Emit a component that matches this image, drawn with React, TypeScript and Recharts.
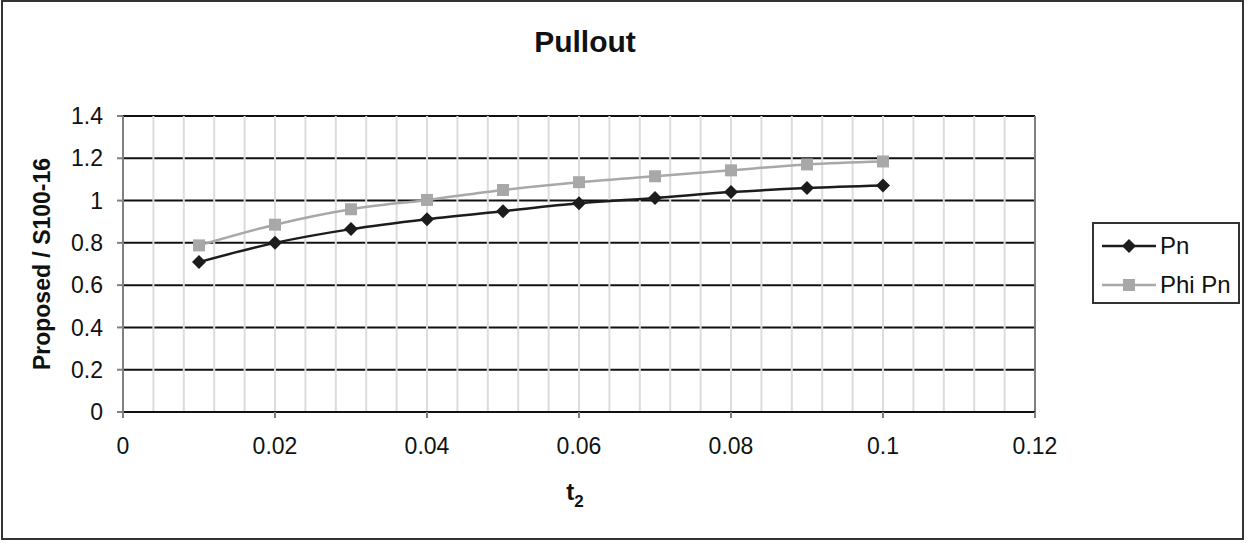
import React from "react";
import {
  LineChart, Line, XAxis, YAxis, CartesianGrid, ReferenceLine, Label,
} from "recharts";

// values
const t2 = [0.01, 0.02, 0.03, 0.04, 0.05, 0.06, 0.07, 0.08, 0.09, 0.1];
const pn = [0.709, 0.8, 0.865, 0.912, 0.95, 0.987, 1.012, 1.04, 1.059, 1.071];
const phiPn = [0.788, 0.886, 0.959, 1.003, 1.05, 1.087, 1.115, 1.143, 1.171, 1.185];

const xTicks = [0, 0.02, 0.04, 0.06, 0.08, 0.1, 0.12];
const yTicks = [0, 0.2, 0.4, 0.6, 0.8, 1, 1.2, 1.4];
// minor vertical gridlines every 0.004
const minorX = Array.from({ length: 29 }, (_, i) => +((i + 1) * 0.004).toFixed(3));

const data = t2.map((t, i) => ({ t, pn: pn[i], phi: phiPn[i] }));

const FONT = "'Liberation Sans', Arial, sans-serif";
const PN_COLOR = "#1c1c1c";
const PHI_COLOR = "#a8a8a8";

const fmt = (v: number) => String(+v.toFixed(2));

function Diamond(props: any) {
  const { cx, cy } = props;
  if (cx == null || cy == null) return null;
  const r = 7;
  return <polygon points={`${cx},${cy - r} ${cx + r},${cy} ${cx},${cy + r} ${cx - r},${cy}`} fill={PN_COLOR} />;
}

function Square(props: any) {
  const { cx, cy } = props;
  if (cx == null || cy == null) return null;
  const r = 6;
  return <rect x={cx - r} y={cy - r} width={r * 2} height={r * 2} fill={PHI_COLOR} />;
}

function LegendBox() {
  const rows = [
    { name: "Pn", color: PN_COLOR, mark: "d" },
    { name: "Phi Pn", color: PHI_COLOR, mark: "s" },
  ];
  return (
    <div style={{ position: "absolute", left: 1092, top: 222, border: "2px solid #333", width: 148, height: 82, boxSizing: "border-box", background: "#fff", fontFamily: FONT, fontSize: 24, color: "#111" }}>
      {rows.map((r, i) => (
        <div key={r.name} style={{ display: "flex", alignItems: "center", height: 40, marginTop: i === 0 ? 2 : -1 }}>
          <svg width={60} height={20} style={{ marginLeft: 6 }}>
            <line x1={2} y1={10} x2={56} y2={10} stroke={r.color} strokeWidth={2.5} />
            {r.mark === "d" ? (
              <polygon points="29,3 36,10 29,17 22,10" fill={r.color} />
            ) : (
              <rect x={23} y={4} width={12} height={12} fill={r.color} />
            )}
          </svg>
          <span>{r.name}</span>
        </div>
      ))}
    </div>
  );
}

export default function App() {
  return (
    <div style={{ position: "absolute", left: 0, top: 0, width: 1247, height: 543, background: "#fff" }}>
      <div style={{ position: "absolute", left: 1, top: 0, width: 1243, height: 540, border: "2px solid #333", boxSizing: "border-box" }} />
      <div style={{ position: "absolute", left: 485, top: 25, width: 200, textAlign: "center", fontFamily: FONT, fontWeight: "bold", fontSize: 30, color: "#111" }}>
        Pullout
      </div>
      <LineChart
        width={1247}
        height={543}
        data={data}
        margin={{ top: 116, right: 212, bottom: 91, left: 63 }}
        style={{ position: "absolute", left: 0, top: 0 }}
      >
        {minorX.map((v) => (
          <ReferenceLine key={v} x={v} stroke="#dcdcdc" strokeWidth={2} />
        ))}
        <CartesianGrid vertical={false} stroke="#111" strokeWidth={2} />
        <ReferenceLine x={0.12} stroke="#808080" strokeWidth={2} />
        <XAxis
          dataKey="t"
          type="number"
          domain={[0, 0.12]}
          ticks={xTicks}
          tickFormatter={fmt}
          height={40}
          axisLine={{ stroke: "#111", strokeWidth: 2 }}
          tickLine={{ stroke: "#808080", strokeWidth: 2 }}
          tickSize={6}
          tickMargin={20}
          tick={{ fill: "#111", fontSize: 23, fontFamily: FONT }}
          label={
            <Label
              content={(p: any) => {
                const vb = p.viewBox;
                return (
                  <text x={vb.x + vb.width / 2 - 4} y={vb.y + 88} textAnchor="middle" fontFamily={FONT} fontWeight="bold" fontSize={24} fill="#111">
                    t<tspan fontSize={17} dy={7}>2</tspan>
                  </text>
                );
              }}
            />
          }
        />
        <YAxis
          type="number"
          domain={[0, 1.4]}
          ticks={yTicks}
          tickFormatter={fmt}
          width={60}
          axisLine={{ stroke: "#808080", strokeWidth: 2 }}
          tickLine={{ stroke: "#808080", strokeWidth: 2 }}
          tickSize={6}
          tickMargin={14}
          tick={{ fill: "#111", fontSize: 23, fontFamily: FONT }}
          label={
            <Label
              content={(p: any) => {
                const vb = p.viewBox;
                const x = vb.x - 21;
                const y = vb.y + vb.height / 2;
                return (
                  <text x={x} y={y} transform={`rotate(-90 ${x} ${y})`} textAnchor="middle" dominantBaseline="central" fontFamily={FONT} fontWeight="bold" fontSize={23} fill="#111">
                    Proposed / S100-16
                  </text>
                );
              }}
            />
          }
        />
        <Line type="monotone" dataKey="phi" name="Phi Pn" stroke={PHI_COLOR} strokeWidth={2.5} dot={<Square />} activeDot={false} isAnimationActive={false} />
        <Line type="monotone" dataKey="pn" name="Pn" stroke={PN_COLOR} strokeWidth={2.5} dot={<Diamond />} activeDot={false} isAnimationActive={false} />
      </LineChart>
      <LegendBox />
    </div>
  );
}
